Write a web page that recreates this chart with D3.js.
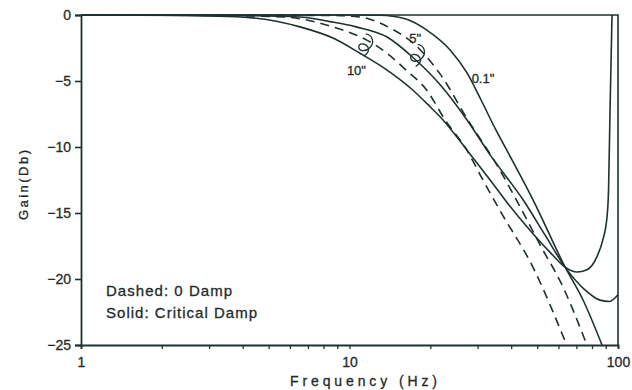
<!DOCTYPE html>
<html>
<head>
<meta charset="utf-8">
<script src="https://cdn.jsdelivr.net/npm/d3@7"></script>
<style>
  html, body { margin: 0; padding: 0; background: #ffffff; }
  svg { display: block; }
  text { font-family: "Liberation Sans", Arial, Helvetica, sans-serif; fill: #1f2a2a; stroke: #1f2a2a; stroke-width: 0.3px; }
</style>
</head>
<body>
<svg id="chart" width="632" height="390"></svg>
<script>
// ---------------- data (frequency in Hz, gain in dB) ----------------
const solid10Freq = [1, 2, 3, 4.26, 6.54, 8.68, 10.9, 13.8, 17.2, 20.0, 22.3, 27.3, 33.4, 38.6, 47.0, 56, 63.5, 70.4, 76.6, 83.5, 87.9, 91.0, 92.2, 93.4, 95.0];
const solid10Gain = [0, -0.02, -0.08, -0.2, -0.9, -1.75, -2.88, -4.17, -5.68, -6.97, -7.95, -10.2, -12.5, -14.2, -16.3, -18.0, -19.1, -19.47, -19.3, -18.3, -17.0, -15.3, -13.3, -7.2, 0];

const dashed10Freq = [1, 3, 5.66, 8.68, 11.6, 13.8, 16.3, 19.4, 22.7, 27.3, 31.4, 36.3, 48.2, 64.4];
const dashed10Gain = [0, -0.03, -0.15, -0.9, -1.9, -2.9, -4.2, -5.7, -7.95, -10.2, -12.5, -14.8, -19.1, -25];

const solid5Freq = [1, 4.26, 6.54, 8.45, 10.6, 13.8, 17.2, 21.8, 27.4, 33.4, 44.3, 53.6, 63.5, 75.1, 85.7, 93.0, 100];
const solid5Gain = [0, -0.05, -0.15, -0.5, -0.9, -1.67, -3.2, -5.3, -7.95, -10.6, -14.0, -16.7, -19.1, -20.8, -21.6, -21.7, -21.2];

const dashed5Freq = [1, 8.45, 10.9, 14.5, 17.2, 21.8, 27.6, 35.5, 43.1, 52.5, 60.7, 76.6];
const dashed5Gain = [0, -0.03, -0.15, -1.1, -2.1, -4.5, -7.95, -11.4, -14.5, -17.8, -20.1, -25];

const solid01Freq = [1, 10, 13, 14.5, 16.7, 19.4, 23.7, 27.4, 30.9, 35.1, 40.3, 48.3, 63.5, 74.1, 87.2];
const solid01Gain = [0, 0, -0.02, -0.1, -0.4, -1.14, -2.65, -4.39, -6.44, -8.71, -10.98, -14.02, -19.09, -21.59, -25];

const yTicks = [0, -5, -10, -15, -20, -25];
const xMajorTicks = [1, 10, 100];
const xMinorTicks = [2, 3, 4, 5, 6, 7, 8, 9, 20, 30, 40, 50, 60, 70, 80, 90];

const curveLabels = [
  { text: '10"', f: 9.78, g: -4.55 },
  { text: '5"', f: 16.7, g: -2.12 },
  { text: '0.1"', f: 28.5, g: -5.15 }
];
const bracketAnchors = [ { f: 11.6, g: -1.5 }, { f: 18.1, g: -2.3 } ];
const legendLines = ["Dashed: 0 Damp", "Solid: Critical Damp"];

// ---------------- layout ----------------
const svg = d3.select("#chart");
const mLeft = 81, mRight = 618, mTop = 15, mBottom = 345;
const ink = "#1f3030";

const x = d3.scaleLog().domain([1, 100]).range([mLeft, mRight]);
const y = d3.scaleLinear().domain([0, -25]).range([mTop, mBottom]);

svg.append("rect").attr("width", 632).attr("height", 390).attr("fill", "#ffffff");

svg.append("defs").append("clipPath").attr("id", "plotclip")
  .append("rect").attr("x", mLeft - 1).attr("y", mTop - 1)
  .attr("width", mRight - mLeft + 2).attr("height", mBottom - mTop + 2);

// series
const series = [
  { f: solid10Freq, g: solid10Gain, dash: null },
  { f: dashed10Freq, g: dashed10Gain, dash: "9,6" },
  { f: solid5Freq, g: solid5Gain, dash: null },
  { f: dashed5Freq, g: dashed5Gain, dash: "9,6" },
  { f: solid01Freq, g: solid01Gain, dash: null }
];

const line = d3.line()
  .x(d => x(d[0]))
  .y(d => y(d[1]))
  .curve(d3.curveMonotoneX);

const plot = svg.append("g").attr("clip-path", "url(#plotclip)");
series.forEach(s => {
  const pts = s.f.map((f, i) => [f, s.g[i]]);
  plot.append("path")
    .attr("d", line(pts))
    .attr("fill", "none")
    .attr("stroke", ink)
    .attr("stroke-width", 1.6)
    .attr("stroke-linejoin", "round")
    .attr("stroke-dasharray", s.dash);
});

// frame (top + right)
svg.append("path")
  .attr("d", `M${mLeft},${mTop}H${mRight}V${mBottom}`)
  .attr("fill", "none").attr("stroke", ink).attr("stroke-width", 1.6);

// y axis
const yAxis = svg.append("g").attr("transform", `translate(${mLeft},0)`)
  .call(d3.axisLeft(y).tickValues(yTicks).tickSize(6).tickPadding(4).tickFormat(d3.format("d")));
yAxis.select(".domain").attr("stroke", ink).attr("stroke-width", 1.8);
yAxis.selectAll(".tick line").attr("stroke", ink).attr("stroke-width", 1.6);
yAxis.selectAll(".tick text").attr("font-size", 14).attr("fill", ink)
  .attr("font-family", "'Liberation Sans', Arial, sans-serif");

// x axis
const xAxis = svg.append("g").attr("transform", `translate(0,${mBottom})`)
  .call(d3.axisBottom(x).tickValues(xMajorTicks.concat(xMinorTicks)).tickSize(4).tickPadding(8)
    .tickFormat(d => xMajorTicks.includes(d) ? d3.format("d")(d) : ""));
xAxis.select(".domain").attr("stroke", ink).attr("stroke-width", 1.8);
xAxis.selectAll(".tick line").attr("stroke", ink).attr("stroke-width", 1.3);
xAxis.selectAll(".tick text").attr("font-size", 14).attr("fill", ink)
  .attr("font-family", "'Liberation Sans', Arial, sans-serif");

// axis titles
svg.append("text")
  .attr("x", 290).attr("y", 386)
  .attr("font-size", 14)
  .attr("textLength", 147).attr("lengthAdjust", "spacing")
  .text("Frequency (Hz)");

svg.append("text")
  .attr("transform", "translate(28,220) rotate(-90)")
  .attr("font-size", 13)
  .attr("textLength", 70).attr("lengthAdjust", "spacing")
  .text("Gain(Db)");

// legend text
legendLines.forEach((t, i) => {
  svg.append("text")
    .attr("x", 106).attr("y", 296 + i * 22)
    .attr("font-size", 15)
    .attr("textLength", i === 0 ? 126 : 151).attr("lengthAdjust", "spacing")
    .text(t);
});

// curve labels
curveLabels.forEach(l => {
  svg.append("text")
    .attr("x", x(l.f)).attr("y", y(l.g))
    .attr("font-size", 13)
    .text(l.text);
});

// bracket loops marking the solid/dashed pairs
bracketAnchors.forEach(b => {
  svg.append("path")
    .attr("transform", `translate(${x(b.f)},${y(b.g)})`)
    .attr("d", "M-1,-1 C6,0 8,8 3,13 C-1,17 -8,17 -8,12 C-8,8 -2,8 1,12 C3,15 1,19 -3,21")
    .attr("fill", "none").attr("stroke", ink).attr("stroke-width", 1.3);
});
</script>
</body>
</html>
